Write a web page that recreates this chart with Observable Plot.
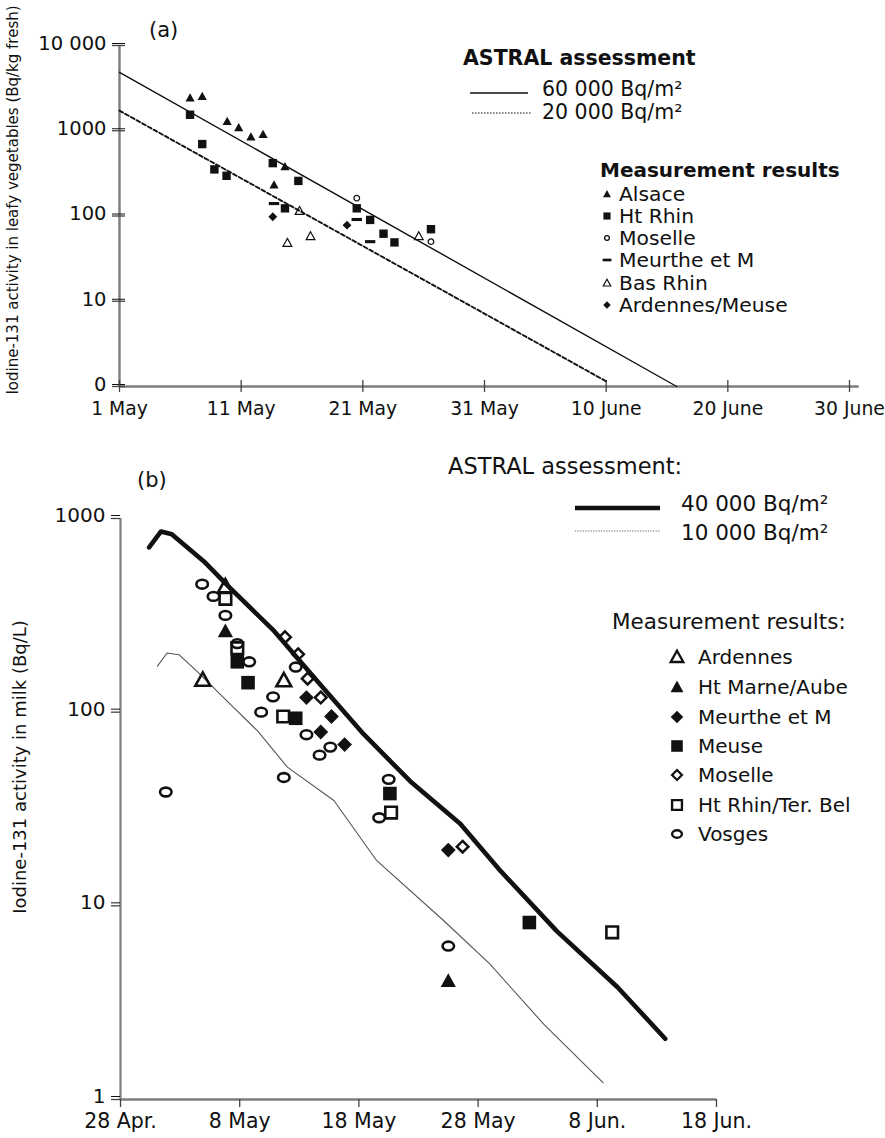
<!DOCTYPE html>
<html><head><meta charset="utf-8">
<script src="https://cdn.jsdelivr.net/npm/d3@7"></script>
<script src="https://cdn.jsdelivr.net/npm/@observablehq/plot@0.6"></script>
<style>
body{margin:0;background:#fff;font-family:"DejaVu Sans",sans-serif;}
#wrap{position:relative;width:885px;height:1138px;overflow:hidden;background:#fff}
.t{position:absolute;white-space:nowrap;color:#111;line-height:1;transform:translateY(-50%)}
.rot{position:absolute;white-space:nowrap;color:#111;line-height:1;transform:translate(-50%,-50%) rotate(-90deg)}
</style></head><body><div id="wrap"></div>
<script>
// ---------- Panel (a): leafy vegetables (x = days after 1 May) ----------
const aXTicks = [0, 10, 20, 30, 40, 50, 60];
const aXLabels = ["1 May", "11 May", "21 May", "31 May", "10 June", "20 June", "30 June"];
const aYTicks = [1, 10, 100, 1000, 10000];
const aYLabels = ["0", "10", "100", "1000", "10 000"];
const a60kDay = [0, 45.8];
const a60kVal = [4850, 1];
const a20kDay = [0, 40];
const a20kVal = [1720, 1.15];
const aAlsaceDay = [5.8, 6.8, 8.85, 9.8, 10.8, 11.8, 12.7, 13.6];
const aAlsaceVal = [2430, 2530, 1290, 1090, 850, 910, 232, 380];
const aHtRhinDay = [5.8, 6.8, 7.8, 8.8, 12.6, 14.7, 13.6, 19.5, 20.6, 21.7, 22.6, 25.6];
const aHtRhinVal = [1540, 698, 352, 296, 417, 258, 123, 123, 90, 62, 49, 70];
const aMoselleDay = [19.5, 25.6];
const aMoselleVal = [162, 50];
const aMeurtheDay = [12.7, 19.5, 20.6];
const aMeurtheVal = [140, 91, 50];
const aBasRhinDay = [14.8, 13.8, 15.7, 24.6];
const aBasRhinVal = [115, 48.5, 58, 58];
const aArdMeuseDay = [12.6, 18.7];
const aArdMeuseVal = [98, 78];

// ---------- Panel (b): milk (x = days after 28 April) ----------
const bXTicks = [0, 10, 20, 30, 40, 50];
const bXLabels = ["28 Apr.", "8 May", "18 May", "28 May", "8 Jun.", "18 Jun."];
const bYTicks = [1, 10, 100, 1000];
const bYLabels = ["1", "10", "100", "1000"];
const b40kDay = [2.4, 3.4, 4.3, 7.0, 9.2, 12.9, 16.5, 20.4, 24.3, 28.5, 31.9, 36.6, 41.7, 45.7];
const b40kVal = [709, 857, 830, 600, 437, 262, 145, 77, 44, 26.5, 15.1, 7.4, 3.8, 2.06];
const b10kDay = [3.1, 3.9, 4.9, 6.4, 9.2, 11.5, 14.0, 17.9, 21.5, 27.1, 31.0, 35.5, 40.5];
const b10kVal = [173, 202, 198, 163, 110, 80, 52, 35, 17.1, 8.4, 5.0, 2.45, 1.22];
const bArdennesDay = [6.9, 13.7, 8.8];
const bArdennesVal = [147, 146, 446];
const bHtMarneDay = [8.8, 27.5];
const bHtMarneVal = [262, 4.1];
const bMeurtheDay = [15.6, 17.7, 16.8, 18.8, 27.5];
const bMeurtheVal = [119, 95, 79, 68, 19.4];
const bMeuseDay = [9.8, 10.7, 14.7, 22.6, 34.3];
const bMeuseVal = [182, 142, 93, 38, 8.2];
const bMoselleDay = [13.8, 14.9, 15.7, 16.8, 28.7];
const bMoselleVal = [244, 199, 149, 119, 20.2];
const bHtRhinDay = [8.8, 9.8, 13.65, 22.7, 41.25];
const bHtRhinVal = [385, 214, 95, 30.3, 7.3];
const bVosgesDay = [6.85, 7.8, 8.8, 9.8, 10.8, 14.7, 12.8, 11.8, 15.6, 17.6, 16.7, 13.7, 3.8, 22.5, 21.7, 27.5];
const bVosgesVal = [458, 396, 316, 226, 182, 171, 120, 100, 76.5, 66, 60, 46, 38.7, 45, 28.5, 6.2];

// ---------- helpers ----------
const zip = (ds, vs) => ds.map((d, i) => ({d, v: vs[i]}));
const R = s => Math.sqrt(s / Math.PI);
const triUp = {draw(c, s) { const r = R(s); c.moveTo(0, -r); c.lineTo(r, 0.8 * r); c.lineTo(-r, 0.8 * r); c.closePath(); }};
const sq = {draw(c, s) { const r = R(s); c.rect(-r, -r, 2 * r, 2 * r); }};
const dia = {draw(c, s) { const r = R(s); c.moveTo(0, -r); c.lineTo(r, 0); c.lineTo(0, r); c.lineTo(-r, 0); c.closePath(); }};
const circ = {draw(c, s) { const r = R(s); c.moveTo(r, 0); c.arc(0, 0, r, 0, 2 * Math.PI); }};
const ell = {draw(c, s) { const r = R(s), rx = 1.15 * r, ry = 0.88 * r, k = 0.5523;
  c.moveTo(rx, 0); c.bezierCurveTo(rx, k * ry, k * rx, ry, 0, ry); c.bezierCurveTo(-k * rx, ry, -rx, k * ry, -rx, 0);
  c.bezierCurveTo(-rx, -k * ry, -k * rx, -ry, 0, -ry); c.bezierCurveTo(k * rx, -ry, rx, -k * ry, rx, 0); c.closePath(); }};
const dash = {draw(c, s) { const r = R(s); c.rect(-r, -0.3 * r, 2 * r, 0.6 * r); }};
const lab = (ticks, labels) => d => labels[ticks.indexOf(d)];

const INK = "#111";
const AXIS = "#7d7d7d";

// series styles (a)
const aSeries = [
  {name: "Alsace", day: aAlsaceDay, val: aAlsaceVal, sym: triUp, r: 4.6, fill: INK, stroke: "none", sw: 0},
  {name: "Ht Rhin", day: aHtRhinDay, val: aHtRhinVal, sym: sq, r: 4.2, fill: INK, stroke: "none", sw: 0},
  {name: "Moselle", day: aMoselleDay, val: aMoselleVal, sym: circ, r: 2.8, fill: "none", stroke: INK, sw: 1.3},
  {name: "Meurthe et M", day: aMeurtheDay, val: aMeurtheVal, sym: dash, r: 5.2, fill: INK, stroke: "none", sw: 0},
  {name: "Bas Rhin", day: aBasRhinDay, val: aBasRhinVal, sym: triUp, r: 4.4, fill: "none", stroke: INK, sw: 1.2},
  {name: "Ardennes/Meuse", day: aArdMeuseDay, val: aArdMeuseVal, sym: dia, r: 4.4, fill: INK, stroke: "none", sw: 0}
];
const bSeries = [
  {name: "Ardennes", day: bArdennesDay, val: bArdennesVal, sym: triUp, r: 7.4, fill: "none", stroke: INK, sw: 2.6},
  {name: "Ht Marne/Aube", day: bHtMarneDay, val: bHtMarneVal, sym: triUp, r: 7.6, fill: INK, stroke: "none", sw: 0},
  {name: "Meurthe et M", day: bMeurtheDay, val: bMeurtheVal, sym: dia, r: 7.4, fill: INK, stroke: "none", sw: 0},
  {name: "Meuse", day: bMeuseDay, val: bMeuseVal, sym: sq, r: 6.8, fill: INK, stroke: "none", sw: 0},
  {name: "Moselle", day: bMoselleDay, val: bMoselleVal, sym: dia, r: 5.8, fill: "none", stroke: INK, sw: 2.5},
  {name: "Ht Rhin/Ter. Bel", day: bHtRhinDay, val: bHtRhinVal, sym: sq, r: 5.8, fill: "none", stroke: INK, sw: 2.6},
  {name: "Vosges", day: bVosgesDay, val: bVosgesVal, sym: ell, r: 5.0, fill: "none", stroke: INK, sw: 2.6}
];

const dotMark = s => Plot.dot(zip(s.day, s.val), {x: "d", y: "v", symbol: s.sym, r: s.r, fill: s.fill, stroke: s.stroke, strokeWidth: s.sw});

// ---------- Plot (a) ----------
const plotA = Plot.plot({
  width: 885, height: 430,
  marginLeft: 119, marginRight: 36, marginTop: 45, marginBottom: 44,
  x: {type: "linear", domain: [0, 60]},
  y: {type: "log", domain: [1, 10000]},
  style: {fontFamily: "DejaVu Sans, sans-serif", color: INK, background: "transparent", overflow: "visible"},
  marks: [
    Plot.ruleX([0], {stroke: AXIS, strokeWidth: 2.4}),
    Plot.ruleY([1], {x1: 0, x2: 60.8, stroke: AXIS, strokeWidth: 2.4}),
    Plot.axisY({ticks: aYTicks, tickFormat: lab(aYTicks, aYLabels), tickSize: 13, dx: 6, tickPadding: 6, fontSize: 19.5, stroke: "#444", strokeWidth: 1.3, label: null, text: null}),
    Plot.axisY({ticks: aYTicks, tickFormat: lab(aYTicks, aYLabels), tickSize: 13, dx: 6, dy: -2, tickPadding: 6, fontSize: 19.5, label: null, tick: null}),
    Plot.axisX({ticks: aXTicks, tickFormat: lab(aXTicks, aXLabels), tickSize: 12, dy: -6, tickPadding: 9, fontSize: 18.8, stroke: "#444", strokeWidth: 1.3, label: null}),
    Plot.line(zip(a60kDay, a60kVal), {x: "d", y: "v", stroke: INK, strokeWidth: 1.4}),
    Plot.line(zip(a20kDay, a20kVal), {x: "d", y: "v", stroke: INK, strokeWidth: 1.9, strokeDasharray: "4,2.5"}),
    ...aSeries.map(dotMark)
  ]
});

// ---------- Plot (b) ----------
const plotB = Plot.plot({
  width: 885, height: 708,
  marginLeft: 120, marginRight: 169, marginTop: 88, marginBottom: 39,
  x: {type: "linear", domain: [0, 50]},
  y: {type: "log", domain: [1, 1000]},
  style: {fontFamily: "DejaVu Sans, sans-serif", color: INK, background: "transparent", overflow: "visible"},
  marks: [
    Plot.ruleX([0], {stroke: AXIS, strokeWidth: 2.2}),
    Plot.ruleY([1], {x1: 0, x2: 50, stroke: AXIS, strokeWidth: 2.4}),
    Plot.axisY({ticks: bYTicks, tickFormat: lab(bYTicks, bYLabels), tickSize: 9, tickPadding: 6, fontSize: 20, stroke: "#444", strokeWidth: 1.3, label: null, text: null}),
    Plot.axisY({ticks: bYTicks, tickFormat: lab(bYTicks, bYLabels), tickSize: 9, tickPadding: 6, dy: -3, fontSize: 20, label: null, tick: null}),
    Plot.axisX({ticks: bXTicks, tickFormat: lab(bXTicks, bXLabels), tickSize: 8, tickPadding: 6, fontSize: 20.5, stroke: "#444", strokeWidth: 1.3, label: null}),
    Plot.line(zip(b10kDay, b10kVal), {x: "d", y: "v", stroke: "#555", strokeWidth: 1.1}),
    Plot.line(zip(b40kDay, b40kVal), {x: "d", y: "v", stroke: INK, strokeWidth: 4.6, strokeLinejoin: "round"}),
    ...bSeries.map(dotMark)
  ]
});

// ---------- assemble ----------
const wrap = document.getElementById("wrap");
plotA.style.position = "absolute"; plotA.style.left = "0px"; plotA.style.top = "0px";
plotB.style.position = "absolute"; plotB.style.left = "0px"; plotB.style.top = "430px";
wrap.appendChild(plotA); wrap.appendChild(plotB);

function text(str, x, y, size, weight, cls) {
  const el = document.createElement("div");
  el.className = cls || "t";
  el.textContent = str;
  el.style.left = x + "px"; el.style.top = y + "px";
  el.style.fontSize = size + "px";
  if (weight) el.style.fontWeight = weight;
  wrap.appendChild(el);
  return el;
}
function sym(s, cx, cy, r, sw) {
  const size = 24;
  const p = d3.path(); s.sym.draw(p, Math.PI * r * r);
  const svg = d3.create("svg").attr("width", size).attr("height", size)
    .attr("viewBox", `${-size / 2} ${-size / 2} ${size} ${size}`)
    .style("position", "absolute").style("left", (cx - size / 2) + "px").style("top", (cy - size / 2) + "px").style("overflow", "visible");
  svg.append("path").attr("d", p.toString()).attr("fill", s.fill).attr("stroke", s.stroke).attr("stroke-width", sw == null ? s.sw : sw);
  wrap.appendChild(svg.node());
}
function hline(x1, x2, y, w, color, dashArr) {
  const svg = d3.create("svg").attr("width", x2 - x1).attr("height", 10)
    .style("position", "absolute").style("left", x1 + "px").style("top", (y - 5) + "px");
  svg.append("line").attr("x1", 0).attr("x2", x2 - x1).attr("y1", 5).attr("y2", 5)
    .attr("stroke", color).attr("stroke-width", w).attr("stroke-dasharray", dashArr || null);
  wrap.appendChild(svg.node());
}

// panel (a) texts
text("(a)", 149, 30, 21);
text("Iodine-131 activity in leafy vegetables (Bq/kg fresh)", 13, 200, 15, null, "rot");
text("ASTRAL assessment", 463, 58, 20.5, "bold");
hline(470, 528, 92.5, 1.5, INK);
text("60 000 Bq/m\u00B2", 542, 88.5, 20.5);
hline(472, 532, 113, 1.2, INK, "1.6,1.4");
text("20 000 Bq/m\u00B2", 542, 112, 20.5);
text("Measurement results", 600, 170, 20, "bold");
const aLegY = [194, 216, 238, 260, 283, 305];
aSeries.forEach((s, i) => { sym(s, 607, aLegY[i], s.r * 0.85); text(s.name, 619, aLegY[i], 20.3); });

// panel (b) texts
text("(b)", 137, 480, 21);
text("Iodine-131 activity in milk (Bq/L)", 20, 767, 18, null, "rot");
text("ASTRAL assessment:", 448, 466, 22.5);
hline(575, 660, 508, 4.6, INK);
text("40 000 Bq/m\u00B2", 681, 504, 21.5);
hline(575, 660, 531, 1, "#666", "1.3,1.3");
text("10 000 Bq/m\u00B2", 681, 533, 21.5);
text("Measurement results:", 612, 622, 21.5);
const bLegY = [657, 687, 717, 746, 775, 805, 834];
bSeries.forEach((s, i) => { sym(s, 677, bLegY[i], s.r * 0.85, s.sw * 0.9); text(s.name, 698, bLegY[i], 20); });
</script></body></html>
